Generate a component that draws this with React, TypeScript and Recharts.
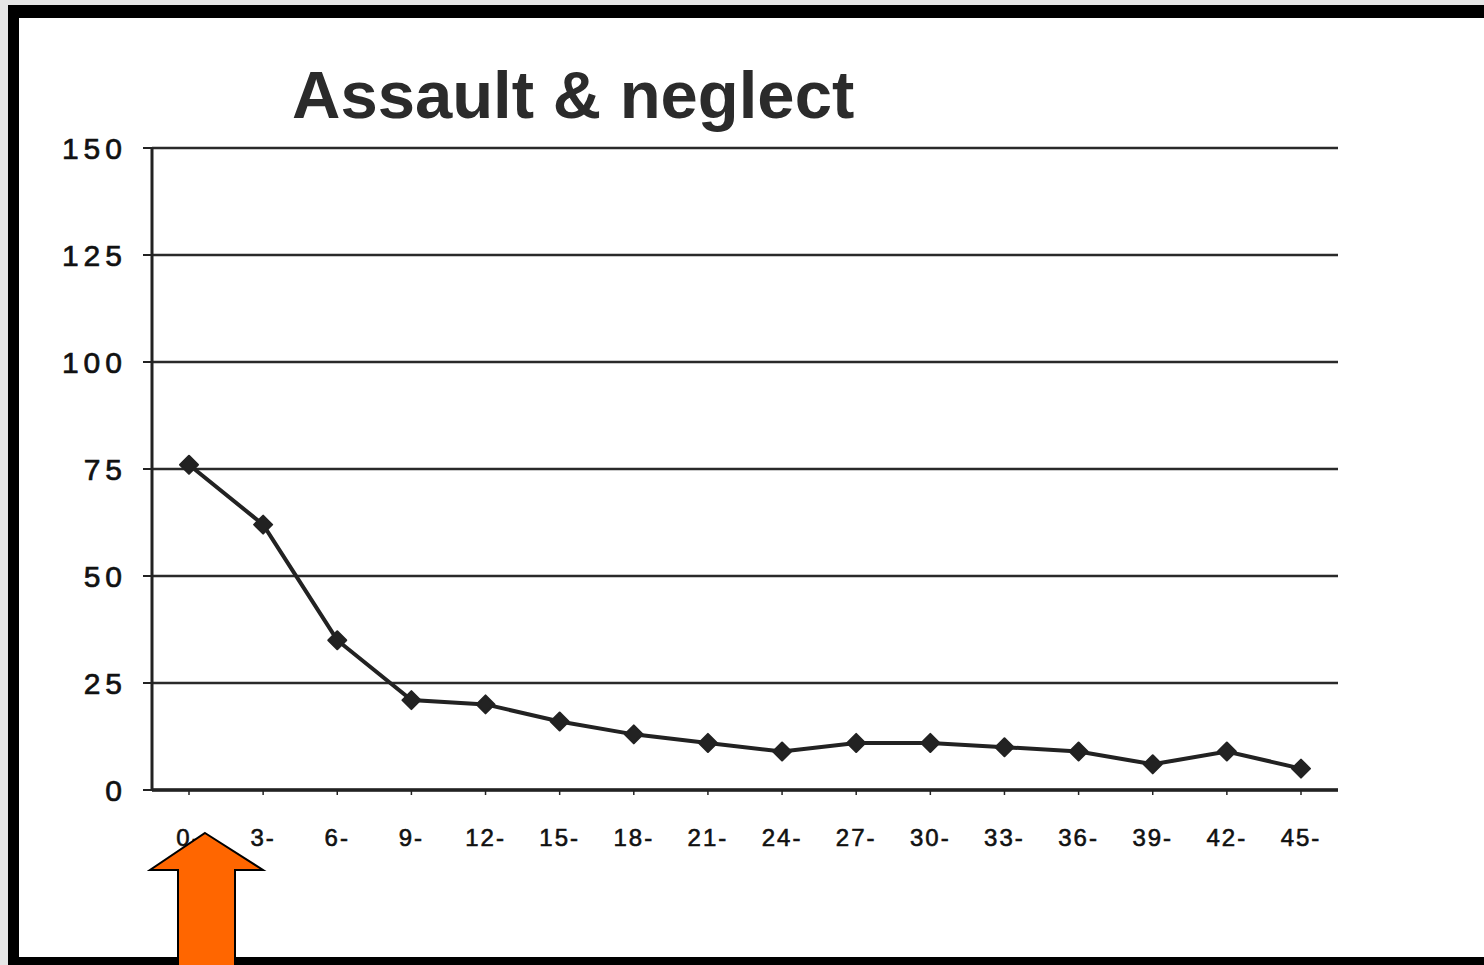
import React from 'react';
import { LineChart, Line, XAxis, YAxis, CartesianGrid } from 'recharts';

const AGE_BANDS = ['0-', '3-', '6-', '9-', '12-', '15-', '18-', '21-', '24-', '27-', '30-', '33-', '36-', '39-', '42-', '45-'];
const CASES = [76, 62, 35, 21, 20, 16, 13, 11, 9, 11, 11, 10, 9, 6, 9, 5];
const Y_TICKS = [0, 25, 50, 75, 100, 125, 150];

const data = AGE_BANDS.map((band, i) => ({ band, cases: CASES[i] }));

const FONT = '"Liberation Sans", Arial, Helvetica, sans-serif';
const INK = '#222';

const Diamond = (props: any) => {
  const { cx, cy } = props;
  if (cx == null || cy == null) return null;
  const r = 9;
  return (
    <polygon
      points={`${cx},${cy - r} ${cx + r},${cy} ${cx},${cy + r} ${cx - r},${cy}`}
      fill={INK}
      stroke={INK}
      strokeWidth={2}
      strokeLinejoin="round"
    />
  );
};

const App: React.FC = () => {
  return (
    <div style={{ position: 'absolute', left: 0, top: 0, width: 1484, height: 965, background: '#e6e6e6', overflow: 'hidden' }}>
      {/* black frame, open on the right */}
      <div style={{ position: 'absolute', left: 8, top: 5, width: 1476, height: 960, background: '#000' }} />
      <div style={{ position: 'absolute', left: 19, top: 18, width: 1465, height: 939, background: '#fff' }} />

      <div
        style={{
          position: 'absolute',
          left: 292,
          top: 61,
          fontFamily: FONT,
          fontWeight: 700,
          fontSize: 67,
          lineHeight: '67px',
          color: '#2b2b2b',
          whiteSpace: 'nowrap',
        }}
      >
        Assault &amp; neglect
      </div>

      <div style={{ position: 'absolute', left: 0, top: 0 }}>
        <LineChart width={1484} height={965} data={data} margin={{ top: 148, right: 146, bottom: 115, left: 52 }}>
          <CartesianGrid vertical={false} stroke="#2a2a2a" strokeWidth={2.5} />
          <XAxis
            dataKey="band"
            interval={0}
            padding={{ left: 37, right: 37 }}
            height={60}
            axisLine={{ stroke: INK, strokeWidth: 3.5 }}
            tickLine={{ stroke: INK, strokeWidth: 1.5 }}
            tickSize={5}
            tickMargin={34}
            tick={{ fill: '#111', stroke: '#111', strokeWidth: 0.6, fontSize: 24, fontFamily: FONT, letterSpacing: 2 }}
          />
          <YAxis
            domain={[0, 150]}
            ticks={Y_TICKS}
            interval={0}
            width={100}
            axisLine={{ stroke: INK, strokeWidth: 3 }}
            tickLine={{ stroke: INK, strokeWidth: 2 }}
            tickSize={9}
            tickMargin={16}
            tick={{ fill: '#111', stroke: '#111', strokeWidth: 0.7, fontSize: 30, fontFamily: FONT, letterSpacing: 5 }}
          />
          <YAxis
            yAxisId="frame"
            orientation="right"
            width={0}
            tick={false}
            tickLine={false}
            axisLine={{ stroke: INK, strokeWidth: 2.5 }}
          />
          <Line
            type="linear"
            dataKey="cases"
            stroke={INK}
            strokeWidth={4}
            dot={<Diamond />}
            activeDot={false}
            isAnimationActive={false}
          />
        </LineChart>
      </div>

      <svg style={{ position: 'absolute', left: 0, top: 0 }} width={1484} height={965}>
        <polygon
          points="205,833 263,870 235,870 235,968 178,968 178,870 150,870"
          fill="#ff6600"
          stroke="#000"
          strokeWidth={2}
        />
      </svg>
    </div>
  );
};

export default App;
